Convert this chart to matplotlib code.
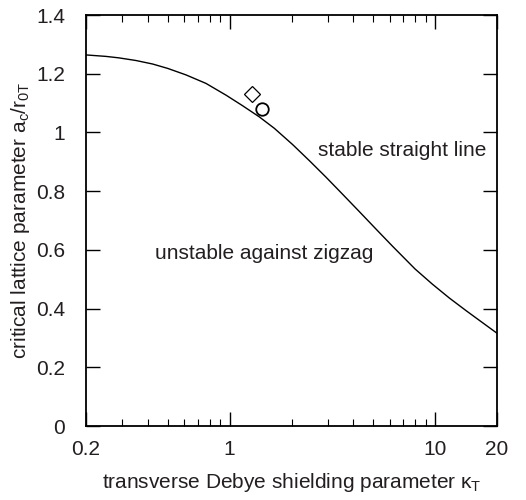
import matplotlib
matplotlib.use("Agg")
import matplotlib.pyplot as plt
from matplotlib.ticker import FixedLocator, NullFormatter

plt.rcParams['font.family'] = ['Liberation Sans', 'DejaVu Sans']
plt.rcParams['mathtext.fontset'] = 'custom'
plt.rcParams['mathtext.rm'] = 'Liberation Sans'
plt.rcParams['mathtext.it'] = 'Liberation Sans'

# curve
kappa = [0.2, 0.25, 0.289, 0.35, 0.422, 0.5, 0.613, 0.767, 0.96, 1.15, 1.394, 1.65, 2.03,
         2.45, 2.94, 3.55, 4.28, 5.2, 6.21, 7.98, 9.7, 11.72, 14.2, 17.0, 20.0]
a_crit = [1.264, 1.259, 1.254, 1.245, 1.233, 1.218, 1.196, 1.167, 1.127, 1.092, 1.053, 1.014, 0.958,
          0.903, 0.848, 0.789, 0.730, 0.668, 0.612, 0.535, 0.483, 0.436, 0.392, 0.352, 0.316]

# single points
diamond_x, diamond_y = [1.29], [1.131]
circle_x, circle_y = [1.44], [1.080]

x_ticks = [0.2, 1, 10, 20]
x_ticklabels = ["0.2", "1", "10", "20"]
y_ticks = [0, 0.2, 0.4, 0.6, 0.8, 1.0, 1.2, 1.4]
y_ticklabels = ["0", "0.2", "0.4", "0.6", "0.8", "1", "1.2", "1.4"]

fs = 15
ink = "#231f20"

fig = plt.figure(figsize=(5.26, 5.0), dpi=100)
ax = fig.add_axes([0.1635, 0.148, 0.7814, 0.822])

ax.plot(kappa, a_crit, color="black", lw=1.0)

ax.plot(diamond_x, diamond_y, marker="D", ms=8, mfc="white", mec="black", mew=0.9, ls="none")
ax.plot(circle_x, circle_y, marker="o", ms=9, mfc="white", mec="black", mew=1.3, ls="none")

ax.text(2.69, 0.937, "stable straight line", fontsize=fs, va="center", ha="left", color=ink)
ax.text(0.434, 0.586, "unstable against zigzag", fontsize=fs, va="center", ha="left", color=ink)

ax.set_xscale("log")
ax.set_xlim(0.2, 20)
ax.set_ylim(0, 1.4)
ax.xaxis.set_major_locator(FixedLocator(x_ticks))
ax.set_xticklabels(x_ticklabels)
minor = [v * d for d in (0.1, 1, 10) for v in range(2, 10)]
ax.xaxis.set_minor_locator(FixedLocator([m for m in minor if 0.2 <= m <= 20 and m not in (1, 10, 20)]))
ax.xaxis.set_minor_formatter(NullFormatter())
ax.set_yticks(y_ticks)
ax.set_yticklabels(y_ticklabels)

ax.tick_params(which="major", direction="in", length=10, width=1.0, top=True, right=True,
               labelsize=fs, colors="black", labelcolor=ink)
ax.tick_params(axis="x", which="major", pad=10)
ax.tick_params(axis="y", which="major", pad=15)
ax.tick_params(which="minor", direction="in", length=5, width=0.8, top=True, right=True)
for s in ax.spines.values():
    s.set_linewidth(1.3)

ax.set_xlabel(r"transverse Debye shielding parameter $\kappa_{\mathrm{T}}$", fontsize=fs, labelpad=9, color=ink)
ax.set_ylabel(r"critical lattice parameter a$_{\mathrm{c}}$/r$_{\mathrm{0T}}$", fontsize=fs, labelpad=3, color=ink)

fig.savefig("out.png", dpi=100)
